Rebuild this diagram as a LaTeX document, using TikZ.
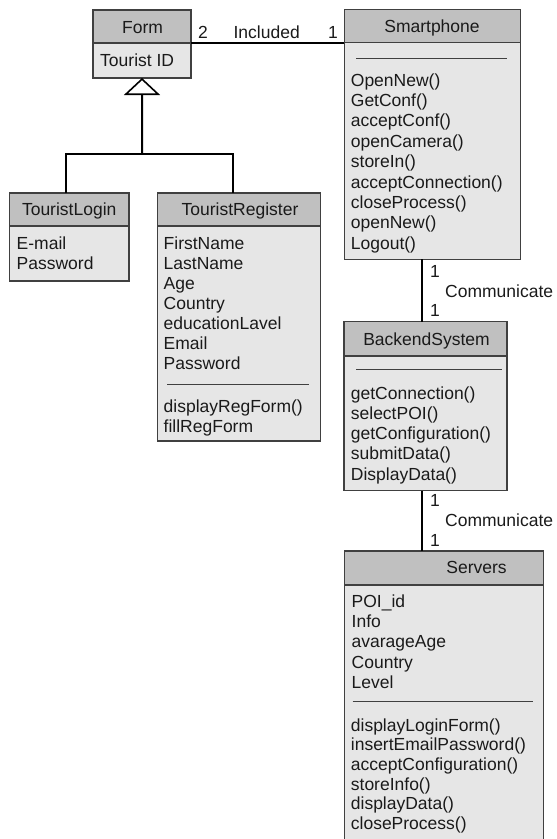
\documentclass[tikz,border=0pt]{standalone}
\usepackage{fontspec}
\setmainfont{Liberation Sans}
\usetikzlibrary{arrows.meta}
\definecolor{hdr}{HTML}{C0C0C0}
\definecolor{bdy}{HTML}{E6E6E6}
\definecolor{edge}{HTML}{404040}
\definecolor{ink}{HTML}{1A1A1A}
\begin{document}
\begin{tikzpicture}[x=1bp,y=-1bp,
  box/.style={draw=edge,line width=1.2bp,inner sep=0pt,outer sep=0pt,anchor=north west},
  hbox/.style={box,fill=hdr},
  bbox/.style={box,fill=bdy},
  txt/.style={anchor=base west,inner sep=0pt,text=ink,font=\fontsize{17.5bp}{20bp}\selectfont},
  ttl/.style={txt,anchor=base},
  sepline/.style={draw=edge,line width=1bp},
  conn/.style={draw=black,line width=2bp}]
\useasboundingbox (0,0) rectangle (557,839);

% ---------- Form ----------
\node[hbox,minimum width=98bp,minimum height=33bp] (formH) at (93,10) {};
\node[bbox,minimum width=98bp,minimum height=35bp] (formB) at (93,43) {};
\node[ttl] (formT) at (142.5,33.3) {Form};
\node[txt] (formA) at (100,66.7) {Tourist ID};

% ---------- TouristLogin ----------
\node[hbox,minimum width=119.7bp,minimum height=33bp] (tlH) at (9.3,193) {};
\node[bbox,minimum width=119.7bp,minimum height=55bp] (tlB) at (9.3,226) {};
\node[ttl] (tlT) at (69.2,215) {TouristLogin};
\foreach \t [count=\i from 0] in {E-mail,Password}
  \node[txt] (tlA\i) at (16.5,249.5+20*\i) {\t};

% ---------- TouristRegister ----------
\node[hbox,minimum width=163.4bp,minimum height=33bp] (trH) at (157.3,193) {};
\node[bbox,minimum width=163.4bp,minimum height=215bp] (trB) at (157.3,226) {};
\node[ttl] (trT) at (240,215) {TouristRegister};
\foreach \t [count=\i from 0] in {FirstName,LastName,Age,Country,educationLavel,Email,Password}
  \node[txt] (trA\i) at (163.5,249.5+20*\i) {\t};
\draw[sepline] (167,384) -- (309,384);
\foreach \t [count=\i from 0] in {displayRegForm(),fillRegForm}
  \node[txt] (trM\i) at (163.5,412.7+19.5*\i) {\t};

% ---------- Smartphone ----------
\node[hbox,minimum width=176.4bp,minimum height=33.4bp] (smH) at (344.3,9.3) {};
\node[bbox,minimum width=176.4bp,minimum height=216.6bp] (smB) at (344.3,42.7) {};
\node[ttl] (smT) at (432,32.5) {Smartphone};
\draw[sepline] (356,58) -- (507,58);
\foreach \t [count=\i from 0] in {OpenNew(),GetConf(),acceptConf(),openCamera(),storeIn(),acceptConnection(),closeProcess(),openNew(),Logout()}
  \node[txt] (smM\i) at (350.7,86+20.4*\i) {\t};

% ---------- BackendSystem ----------
\node[hbox,minimum width=163bp,minimum height=34.3bp] (beH) at (344,321.7) {};
\node[bbox,minimum width=163bp,minimum height=134.7bp] (beB) at (344,356) {};
\node[ttl] (beT) at (426.5,345) {BackendSystem};
\draw[sepline] (356,369) -- (502,369);
\foreach \t [count=\i from 0] in {getConnection(),selectPOI(),getConfiguration(),submitData(),DisplayData()}
  \node[txt] (beM\i) at (350.7,399.3+20.2*\i) {\t};

% ---------- Servers ----------
\node[hbox,minimum width=199bp,minimum height=34bp] (svH) at (344.3,551) {};
\node[bbox,minimum width=199bp,minimum height=260bp] (svB) at (344.3,585) {};
\node[ttl] (svT) at (476.5,573.3) {Servers};
\foreach \t [count=\i from 0] in {POI\_id,Info,avarageAge,Country,Level}
  \node[txt] (svA\i) at (351.5,607.7+20.1*\i) {\t};
\draw[sepline] (352.7,701) -- (532.7,701);
\foreach \t [count=\i from 0] in {displayLoginForm(),insertEmailPassword(),acceptConfiguration(),storeInfo(),displayData(),closeProcess()}
  \node[txt] (svM\i) at (350.7,731+19.7*\i) {\t};

% ---------- connectors ----------
% association Form -- Smartphone
\draw[conn] (formB.north east) -- (formB.north east -| smB.west);
\node[ttl] (inc2) at (203,38.5) {2};
\node[ttl] (incL) at (266.7,38.5) {Included};
\node[ttl] (inc1) at (333,38.5) {1};

% generalization
\coordinate (jm) at (142,154);
\coordinate (jl) at (66,154);
\coordinate (jr) at (233,154);
\draw[conn,-{Triangle[open,length=17bp,width=36bp,line width=1.6bp]}] (jm) -- (formB.south);
\draw[conn] (jl |- tlH.north) -- (jl) -- (jr) -- (jr |- trH.north);

% Smartphone -- BackendSystem
\coordinate (cx) at (422,0);
\draw[conn] (cx |- smB.south) -- (cx |- beH.north);
\node[ttl] (c1a) at (435,277) {1};
\node[txt] (c1l) at (445,297) {Communicate};
\node[ttl] (c1b) at (435,316.7) {1};

% BackendSystem -- Servers
\draw[conn] (cx |- beB.south) -- (cx |- svH.north);
\node[ttl] (c2a) at (435,506.7) {1};
\node[txt] (c2l) at (445,526.7) {Communicate};
\node[ttl] (c2b) at (435,546.7) {1};
\end{tikzpicture}
\end{document}
